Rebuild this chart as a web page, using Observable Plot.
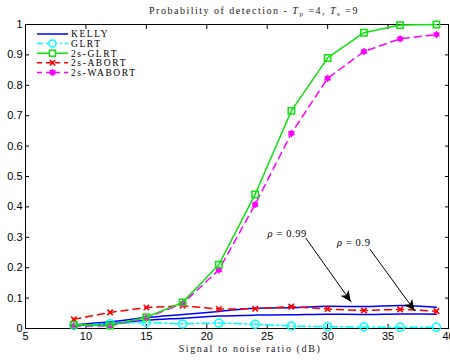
<!DOCTYPE html>
<html><head><meta charset="utf-8">
<script src="https://cdn.jsdelivr.net/npm/d3@7"></script>
<script src="https://cdn.jsdelivr.net/npm/@observablehq/plot@0.6"></script>
<style>body{margin:0;background:#fff}</style>
</head><body><div id="chart"></div>
<script>
// ---- data ----
const snr = [9, 12, 15, 18, 21, 24, 27, 30, 33, 36, 39];
const kelly099 = [0.012, 0.022, 0.036, 0.046, 0.056, 0.067, 0.068, 0.073, 0.072, 0.076, 0.070];
const kelly09  = [0.010, 0.016, 0.027, 0.034, 0.041, 0.044, 0.045, 0.047, 0.046, 0.048, 0.047];
const glrt     = [0.010, 0.016, 0.020, 0.015, 0.018, 0.014, 0.008, 0.006, 0.005, 0.004, 0.004];
const glrt2s   = [0.012, 0.010, 0.037, 0.086, 0.210, 0.441, 0.716, 0.890, 0.973, 0.998, 1.000];
const abort2s  = [0.030, 0.053, 0.069, 0.075, 0.064, 0.065, 0.072, 0.064, 0.059, 0.063, 0.057];
const wabort2s = [0.008, 0.008, 0.035, 0.082, 0.193, 0.408, 0.642, 0.823, 0.911, 0.953, 0.967];
const legendNames = ["KELLY", "GLRT", "2s-GLRT", "2s-ABORT", "2s-WABORT"];
const xTicks = [5, 10, 15, 20, 25, 30, 35, 40];
const yTicks = [0, 0.1, 0.2, 0.3, 0.4, 0.5, 0.6, 0.7, 0.8, 0.9, 1];
const yTickLabels = ["0", "0.1", "0.2", "0.3", "0.4", "0.5", "0.6", "0.7", "0.8", "0.9", "1"];
const annoRho = ["\u03C1", "\u03C1"];
const annoValues = [" = 0.99", " = 0.9"];
const annoTextX = [26.7, 32.2];
const annoTextY = [0.311, 0.281];
const arrowX1 = [28.18, 33.48];
const arrowY1 = [0.298, 0.262];
const arrowX2 = [31.96, 37.23];
const arrowY2 = [0.0865, 0.057];

const rows = (ys) => snr.map((x, i) => ({x, y: ys[i]}));
const kA = rows(kelly099), kB = rows(kelly09), g = rows(glrt), g2 = rows(glrt2s),
      a2 = rows(abort2s), w2 = rows(wabort2s);
const arrows = arrowX1.map((x1, i) => ({x1, y1: arrowY1[i], x2: arrowX2[i], y2: arrowY2[i]}));

const BLUE = "#0000ff", CYAN = "#00ffff", GREEN = "#11e011", RED = "#ff0000", MAG = "#ff00ff";

const plot = Plot.plot({
  width: 450, height: 360,
  marginLeft: 25, marginRight: 2, marginTop: 24, marginBottom: 32,
  style: {fontFamily: "Liberation Sans, Arial, sans-serif", fontSize: "11px", color: "#000", background: "#fff"},
  x: {domain: [5, 40]},
  y: {domain: [0, 1]},
  marks: [
    Plot.frame({stroke: "#000", strokeWidth: 1}),
    Plot.axisX(xTicks, {anchor: "bottom", tickSize: -4, text: null, label: null}),
    Plot.axisX(xTicks, {anchor: "top", tickSize: -4, text: null, label: null}),
    Plot.axisX(xTicks, {anchor: "bottom", tickSize: 0, tickPadding: 4, label: null, fill: "#000"}),
    Plot.axisY(yTicks, {anchor: "left", tickSize: -4, text: null, label: null}),
    Plot.axisY(yTicks, {anchor: "right", tickSize: -4, text: null, label: null}),
    Plot.axisY(yTicks, {anchor: "left", tickSize: 0, tickPadding: 3, label: null, fill: "#000",
      tickFormat: (d) => yTickLabels[yTicks.indexOf(d)]}),
    // KELLY
    Plot.line(kA, {x: "x", y: "y", stroke: BLUE, strokeWidth: 1.5, curve: "monotone-x"}),
    Plot.line(kB, {x: "x", y: "y", stroke: BLUE, strokeWidth: 1.5, curve: "monotone-x"}),
    // GLRT
    Plot.line(g, {x: "x", y: "y", stroke: CYAN, strokeWidth: 1.5, strokeDasharray: "8,3,2,3"}),
    Plot.dot(g, {x: "x", y: "y", stroke: CYAN, strokeWidth: 1.5, r: 4, fill: "none"}),
    // 2s-ABORT
    Plot.line(a2, {x: "x", y: "y", stroke: RED, strokeWidth: 1.5, strokeDasharray: "7,5"}),
    Plot.dot(a2, {x: "x", y: "y", stroke: RED, strokeWidth: 1.6, r: 2.6, symbol: "times"}),
    Plot.dot(a2, {x: "x", y: "y", fill: RED, r: 1.3}),
    // 2s-WABORT
    Plot.line(w2, {x: "x", y: "y", stroke: MAG, strokeWidth: 1.5, strokeDasharray: "7,5"}),
    Plot.dot(w2, {x: "x", y: "y", fill: MAG, r: 2.8}),
    Plot.dot(w2, {x: "x", y: "y", stroke: MAG, strokeWidth: 1.2, r: 3.4, symbol: "asterisk"}),
    // 2s-GLRT
    Plot.line(g2, {x: "x", y: "y", stroke: GREEN, strokeWidth: 1.5}),
    Plot.dot(g2, {x: "x", y: "y", stroke: GREEN, strokeWidth: 1.5, r: 3.6, symbol: "square", fill: "none"}),
    // annotation shafts
    Plot.link(arrows, {x1: "x1", y1: "y1", x2: "x2", y2: "y2", stroke: "#000", strokeWidth: 1})
  ]
});

// post-process: arrow heads, annotation text, legend, title, x label
const sx = plot.scale("x"), sy = plot.scale("y");
const svg = d3.select(plot);
const over = svg.append("g");
arrows.forEach(a => {
  const px1 = sx.apply(a.x1), py1 = sy.apply(a.y1), px2 = sx.apply(a.x2), py2 = sy.apply(a.y2);
  const ang = Math.atan2(py2 - py1, px2 - px1) * 180 / Math.PI;
  over.append("path")
    .attr("d", "M0,0 L-11,-5 L-8,0 L-11,5 Z")
    .attr("fill", "#000")
    .attr("transform", `translate(${px2},${py2}) rotate(${ang})`);
});
annoRho.forEach((rho, i) => {
  const t = over.append("text")
    .attr("x", sx.apply(annoTextX[i])).attr("y", sy.apply(annoTextY[i]) + 3.5)
    .attr("text-anchor", "middle").attr("font-family", "Liberation Serif, serif")
    .attr("font-size", 10.5).attr("letter-spacing", "0.6px").attr("fill", "#000");
  t.append("tspan").attr("font-style", "italic").text(rho);
  t.append("tspan").text(annoValues[i]);
});

// legend
const legendStyles = [
  {stroke: BLUE, dash: null, marker: null},
  {stroke: CYAN, dash: "6,3,2,3", marker: "circle"},
  {stroke: GREEN, dash: null, marker: "square"},
  {stroke: RED, dash: "5,4", marker: "times"},
  {stroke: MAG, dash: "5,4", marker: "filled"}
];
const lg = svg.append("g");
legendNames.forEach((name, i) => {
  const st = legendStyles[i];
  const y = 34 + i * 9.6;
  lg.append("line").attr("x1", 37).attr("x2", 68).attr("y1", y).attr("y2", y)
    .attr("stroke", st.stroke).attr("stroke-width", 1.5)
    .attr("stroke-dasharray", st.dash);
  const mx = 52.5;
  if (st.marker === "circle") lg.append("circle").attr("cx", mx).attr("cy", y).attr("r", 3.5)
    .attr("fill", "#fff").attr("stroke", st.stroke).attr("stroke-width", 1.5);
  if (st.marker === "square") lg.append("rect").attr("x", mx - 3).attr("y", y - 3).attr("width", 6).attr("height", 6)
    .attr("fill", "#fff").attr("stroke", st.stroke).attr("stroke-width", 1.5);
  if (st.marker === "times") {
    lg.append("path").attr("transform", `translate(${mx},${y})`)
      .attr("d", d3.symbol(d3.symbolTimes, 20)()).attr("stroke", st.stroke).attr("stroke-width", 1.6);
    lg.append("circle").attr("cx", mx).attr("cy", y).attr("r", 1.3).attr("fill", st.stroke);
  }
  if (st.marker === "filled") {
    lg.append("circle").attr("cx", mx).attr("cy", y).attr("r", 2.8).attr("fill", st.stroke);
    lg.append("path").attr("transform", `translate(${mx},${y})`)
      .attr("d", d3.symbol(d3.symbolAsterisk, 36)()).attr("stroke", st.stroke).attr("stroke-width", 1.2);
  }
  lg.append("text").attr("x", 71).attr("y", y + 3.4).attr("text-anchor", "start").text(name)
    .attr("font-family", "Liberation Serif, serif").attr("font-size", 9.5)
    .attr("letter-spacing", "1.6px").attr("fill", "#000");
});

// title
const title = svg.append("text").attr("x", 254).attr("y", 14).attr("text-anchor", "middle")
  .attr("font-family", "Liberation Serif, serif").attr("font-size", 10).attr("letter-spacing", "1.5px")
  .attr("fill", "#222");
title.append("tspan").text("Probability of detection - ");
title.append("tspan").attr("font-style", "italic").text("T");
title.append("tspan").attr("font-size", 7).attr("dy", 2).text("p");
title.append("tspan").attr("dy", -2).text(" =4, ");
title.append("tspan").attr("font-style", "italic").text("T");
title.append("tspan").attr("font-size", 7).attr("dy", 2).text("s");
title.append("tspan").attr("dy", -2).text(" =9");

// x label
svg.append("text").attr("x", 250).attr("y", 352).attr("text-anchor", "middle")
  .attr("font-family", "Liberation Serif, serif").attr("font-size", 10).attr("letter-spacing", "1.6px")
  .attr("fill", "#222").text("Signal to noise ratio (dB)");

document.getElementById("chart").appendChild(plot);
</script>
</body></html>
